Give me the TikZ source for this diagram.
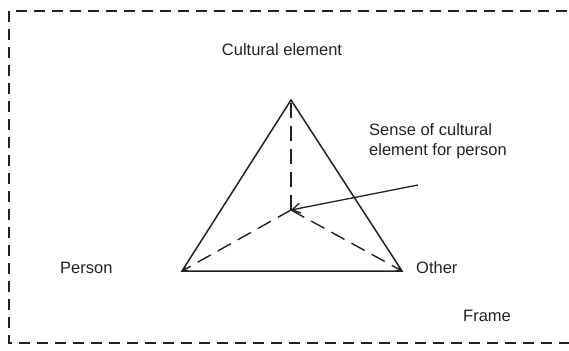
\documentclass[tikz,border=0pt]{standalone}
\usepackage{fontspec}
\setmainfont{Liberation Sans}
\usetikzlibrary{arrows.meta}
\definecolor{ink}{HTML}{222222}
\begin{document}
\begin{tikzpicture}[x=1pt,y=-1pt,
  lbl/.style={font=\fontsize{16.5}{20}\selectfont, text=ink, inner sep=0pt},
  solidline/.style={draw=ink, line width=1.5pt},
  dashline/.style={draw=ink, line width=1.4pt, dash pattern=on 15pt off 8pt},
  framestyle/.style={draw=ink, line width=1.3pt, dash pattern=on 11pt off 7pt}]
\useasboundingbox (0,0) rectangle (569,350);
\begin{scope}
\clip (0,0) rectangle (569,350);
\draw[framestyle] (585,11) -- (9,11) -- (9,343) -- (585,343);
\end{scope}
\coordinate (A) at (291,100);
\coordinate (L) at (182,271);
\coordinate (R) at (402,271);
\coordinate (C) at (291,210);
\coordinate (S) at (418,185);
\draw[solidline, line join=miter] (A) -- (L) -- (R) -- cycle;
\draw[dashline] (C) -- (A);
\draw[dashline, -{Straight Barb[length=4pt,width=5pt]}] (C) -- (L);
\draw[dashline, -{Straight Barb[length=4pt,width=5pt]}] (C) -- (R);
\draw[draw=ink, line width=1.3pt, -{Straight Barb[length=8pt,width=10pt]}] (S) -- (C);
\node[lbl] (ce) at (282,50) {Cultural element};
\node[lbl, anchor=west, align=left] (sense) at (369,141) {Sense of cultural\\element for person};
\node[lbl, anchor=west] (person) at (60,268) {Person};
\node[lbl, anchor=west] (other) at (416,268) {Other};
\node[lbl, anchor=west] (frame) at (463,316) {Frame};
\end{tikzpicture}
\end{document}
